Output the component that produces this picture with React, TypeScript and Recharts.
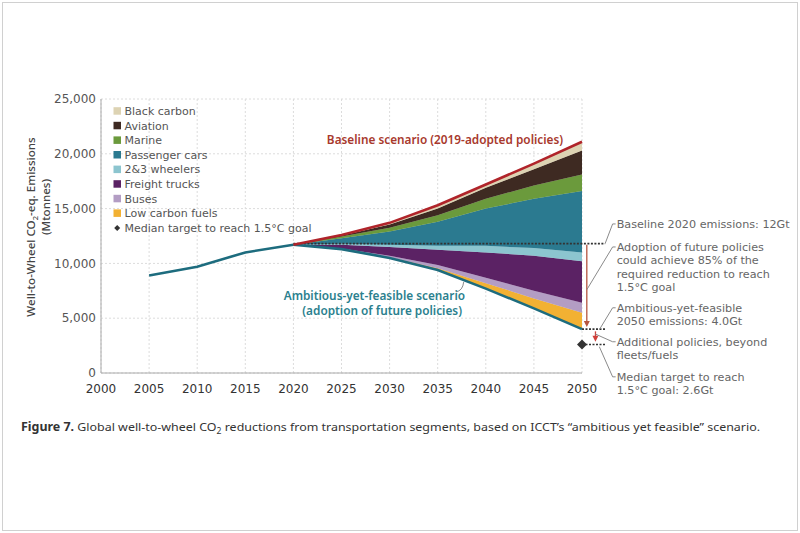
import React from 'react';
import {
  ComposedChart, Area, Line, Scatter, XAxis, YAxis, CartesianGrid, ReferenceLine,
} from 'recharts';

// years on the x axis
const years = [2005, 2010, 2015, 2020, 2025, 2030, 2035, 2040, 2045, 2050];
const historical = [8900, 9700, 11000, 11700, null, null, null, null, null, null];
const baseline = [null, null, null, 11700, 12600, 13700, 15300, 17200, 19100, 21100];
const ambitious = [null, null, null, 11700, 11300, 10500, 9400, 7700, 5900, 4000];

// reduction wedges, 2020..2050 (Mt), bottom to top
const wedgeYears = [2020, 2025, 2030, 2035, 2040, 2045, 2050];
const lowCarbonFuels = [0, 0, 50, 150, 500, 900, 1500];
const buses = [0, 50, 150, 300, 500, 700, 900];
const freightTrucks = [0, 350, 800, 1400, 2300, 3200, 3800];
const wheelers = [0, 100, 200, 350, 600, 700, 800];
const passengerCars = [0, 500, 1200, 2200, 3400, 4500, 5600];
const marine = [0, 150, 350, 600, 900, 1200, 1500];
const aviation = [0, 100, 300, 600, 1000, 1500, 2200];
const blackCarbon = [0, 50, 150, 300, 300, 500, 800];

const baseline2020 = 11800;
const medianTargetYear = 2050;
const medianTarget = 2600;

const xTicks = [2000, 2005, 2010, 2015, 2020, 2025, 2030, 2035, 2040, 2045, 2050];
const yTicks = [0, 5000, 10000, 15000, 20000, 25000];

const segments = [
  { key: 'lcf', name: 'Low carbon fuels', color: '#f2b133', values: lowCarbonFuels },
  { key: 'buses', name: 'Buses', color: '#b39dc4', values: buses },
  { key: 'freight', name: 'Freight trucks', color: '#5b2264', values: freightTrucks },
  { key: 'wheelers', name: '2&3 wheelers', color: '#8cc5cf', values: wheelers },
  { key: 'cars', name: 'Passenger cars', color: '#2b7a90', values: passengerCars },
  { key: 'marine', name: 'Marine', color: '#6b9a3c', values: marine },
  { key: 'aviation', name: 'Aviation', color: '#3e2a22', values: aviation },
  { key: 'bc', name: 'Black carbon', color: '#ddd3b3', values: blackCarbon },
];

const data = years.map((year, i) => {
  const row: any = { year, hist: historical[i], baseline: baseline[i], ambitious: ambitious[i] };
  const w = wedgeYears.indexOf(year);
  row.base = w >= 0 ? ambitious[i] : null;
  segments.forEach((s) => {
    row[s.key] = w >= 0 ? s.values[w] : null;
  });
  return row;
});

const FONT = '"DejaVu Sans", sans-serif';
const LABEL_FONT = '"Noto Sans", sans-serif';
const TEXT = '#666';

// plot geometry (matches chart margins below)
const M = { top: 99, right: 218, left: 1, bottom: 130 };
const Y_AXIS_W = 100;
const X_AXIS_H = 30;
const plotLeft = M.left + Y_AXIS_W;
const plotRight = 800 - M.right;
const plotTop = M.top;
const plotBottom = 533 - M.bottom - X_AXIS_H;
const px = (yr: number) => plotLeft + ((yr - 2000) / 50) * (plotRight - plotLeft);
const py = (v: number) => plotBottom - (v / 25000) * (plotBottom - plotTop);

const arrowShape = (color: string) => (p: any) => (
  <g>
    <line x1={p.x1} y1={p.y1} x2={p.x2} y2={p.y2 - 4} stroke={color} strokeWidth={1.3} />
    <polygon points={`${p.x2 - 3},${p.y2 - 6} ${p.x2 + 3},${p.y2 - 6} ${p.x2},${p.y2}`} fill={color} />
  </g>
);

const dotted = { stroke: '#333', strokeWidth: 1.6, strokeDasharray: '2 1.5' };

const notes = [
  { v: 13600, lines: ['Baseline 2020 emissions: 12Gt'] },
  { v: 11500, lines: ['Adoption of future policies', 'could achieve 85% of the', 'required reduction to reach', '1.5°C goal'] },
  { v: 5950, lines: ['Ambitious-yet-feasible', '2050 emissions: 4.0Gt'] },
  { v: 2850, lines: ['Additional policies, beyond', 'fleets/fuels'] },
  { v: -350, lines: ['Median target to reach', '1.5°C goal: 2.6Gt'] },
];

// where each note's leader line points to (year, value)
const leaderTargets = [
  [2052.4, baseline2020],
  [2050.5, 7600],
  [2051.8, 3950],
  [2051.4, 3550],
  [2051.8, 2400],
];

export default function App() {
  const legendItems = [...segments].reverse();
  const noteX = px(2053.6);
  return (
    <div style={{ position: 'absolute', left: 0, top: 0, width: 800, height: 533, background: '#fff', fontFamily: FONT }}>
      <div style={{ position: 'absolute', left: 2, top: 2, width: 794, height: 527, border: '1px solid #d0d0d0' }} />
      <div style={{ position: 'absolute', left: 0, top: 0 }}>
        <ComposedChart width={800} height={533} data={data} margin={M}>
          <CartesianGrid stroke="#dcdcdc" strokeDasharray="2 2" />
          <XAxis
            dataKey="year"
            type="number"
            domain={[2000, 2050]}
            ticks={xTicks}
            axisLine={{ stroke: '#aaa' }}
            tickLine={false}
            tick={{ fill: '#333', fontSize: 12, fontFamily: FONT }}
            dy={3}
            height={X_AXIS_H}
          />
          <YAxis
            domain={[0, 25000]}
            ticks={yTicks}
            axisLine={{ stroke: '#aaa' }}
            tickLine={false}
            tickSize={0}
            tickMargin={5}
            width={Y_AXIS_W}
            tick={{ fill: '#555', fontSize: 12, fontFamily: FONT }}
            tickFormatter={(v: number) => v.toLocaleString('en-US')}
          />
          <Area dataKey="base" stackId="w" stroke="none" fill="none" isAnimationActive={false} />
          {segments.map((s) => (
            <Area
              key={s.key}
              dataKey={s.key}
              stackId="w"
              type="linear"
              stroke={s.color}
              strokeWidth={0.4}
              fill={s.color}
              fillOpacity={1}
              isAnimationActive={false}
            />
          ))}
          <ReferenceLine
            segment={[{ x: 2020, y: baseline2020 }, { x: 2052.4, y: baseline2020 }]}
            ifOverflow="visible"
            {...dotted}
          />
          <ReferenceLine
            segment={[{ x: 2050, y: ambitious[9] as number }, { x: 2052.4, y: ambitious[9] as number }]}
            ifOverflow="visible"
            {...dotted}
          />
          <ReferenceLine
            segment={[{ x: medianTargetYear, y: medianTarget }, { x: 2052.4, y: medianTarget }]}
            ifOverflow="visible"
            {...dotted}
          />
          <ReferenceLine
            segment={[{ x: 2050.5, y: baseline2020 - 100 }, { x: 2050.5, y: 4200 }]}
            ifOverflow="visible"
            shape={arrowShape('#b5553f')}
          />
          <ReferenceLine
            segment={[{ x: 2051.4, y: 3800 }, { x: 2051.4, y: 2850 }]}
            ifOverflow="visible"
            shape={arrowShape('#d0403a')}
          />
          <Line dataKey="hist" stroke="#1d6c7e" strokeWidth={2.6} dot={false} isAnimationActive={false} />
          <Line dataKey="ambitious" stroke="#1d6c7e" strokeWidth={2.6} dot={false} isAnimationActive={false} />
          <Line dataKey="baseline" stroke="#b0242a" strokeWidth={2.6} dot={false} isAnimationActive={false} />
          <Scatter
            data={[{ year: medianTargetYear, median: medianTarget }]}
            dataKey="median"
            isAnimationActive={false}
            shape={(p: any) => (
              <polygon
                points={`${p.cx},${p.cy - 5} ${p.cx + 5},${p.cy} ${p.cx},${p.cy + 5} ${p.cx - 5},${p.cy}`}
                fill="#333"
              />
            )}
          />
        </ComposedChart>
      </div>

      <svg
        width={800}
        height={533}
        viewBox="0 0 800 533"
        style={{ position: 'absolute', left: 0, top: 0, pointerEvents: 'none', zIndex: 2 }}
        fontFamily={FONT}
      >
        {/* leader lines */}
        {notes.map((n, i) => {
          const y0 = py(n.v);
          const tx = px(leaderTargets[i][0]);
          const ty = py(leaderTargets[i][1]);
          return (
            <path
              key={'l' + i}
              d={`M ${noteX - 1} ${y0} L ${noteX - 4} ${y0} L ${tx} ${ty}`}
              fill="none"
              stroke="#8a8a8a"
              strokeWidth={1}
            />
          );
        })}
        <path
          d={`M ${px(2036.9)} ${py(7400)} Q ${px(2037.6)} ${py(7500)} ${px(2037.7)} ${py(8300)}`}
          fill="none"
          stroke="#8a8a8a"
          strokeWidth={1}
        />

        {/* y axis title */}
        <text transform="translate(35,227) rotate(-90)" textAnchor="middle" fontSize={11.6} fontWeight={500} fill="#444" fontFamily={LABEL_FONT}>
          Well-to-Wheel CO<tspan dy={3} fontSize={7.5}>2</tspan><tspan dy={-3}>-eq. Emissions</tspan>
        </text>
        <text transform="translate(50,207) rotate(-90)" textAnchor="middle" fontSize={11.6} fontWeight={500} fill="#444" fontFamily={LABEL_FONT}>
          (Mtonnes)
        </text>

        {/* legend */}
        {legendItems.map((s, i) => (
          <g key={s.key}>
            <rect x={113.5} y={111 + i * 14.6 - 3.8} width={7.5} height={7.5} fill={s.color} />
            <text x={124.5} y={111 + i * 14.6 + 4} fontSize={11} fill="#555">{s.name}</text>
          </g>
        ))}
        <polygon
          points={`117.2,${228 - 3} 120.2,228 117.2,${228 + 3} 114.2,228`}
          fill="#333"
        />
        <text x={124.5} y={232} fontSize={11} fill="#555">Median target to reach 1.5°C goal</text>

        {/* scenario labels */}
        <text x={445} y={144} textAnchor="middle" fontSize={11.8} fontWeight={600} fill="#a8392d" fontFamily={LABEL_FONT}>
          Baseline scenario (2019-adopted policies)
        </text>
        <text x={465} y={300} textAnchor="end" fontSize={11.8} fontWeight={600} fill="#2b7f8e" fontFamily={LABEL_FONT}>
          Ambitious-yet-feasible scenario
        </text>
        <text x={462} y={315} textAnchor="end" fontSize={11.8} fontWeight={600} fill="#2b7f8e" fontFamily={LABEL_FONT}>
          (adoption of future policies)
        </text>

        {/* right annotations */}
        {notes.map((n, i) => (
          <g key={i}>
            {n.lines.map((t, j) => (
              <text key={j} x={noteX} y={py(n.v) + 4 + j * 13.3} fontSize={11.2} fill={TEXT}>{t}</text>
            ))}
          </g>
        ))}

        {/* caption */}
        <text x={21} y={431} fontSize={11.5} fill="#333" textLength={739} lengthAdjust="spacingAndGlyphs" fontFamily={LABEL_FONT}>
          <tspan fontWeight={700}>Figure 7.</tspan> Global well-to-wheel CO<tspan dy={2.5} fontSize={8}>2</tspan>
          <tspan dy={-2.5}> reductions from transportation segments, based on ICCT’s “ambitious yet feasible” scenario.</tspan>
        </text>
      </svg>
    </div>
  );
}
